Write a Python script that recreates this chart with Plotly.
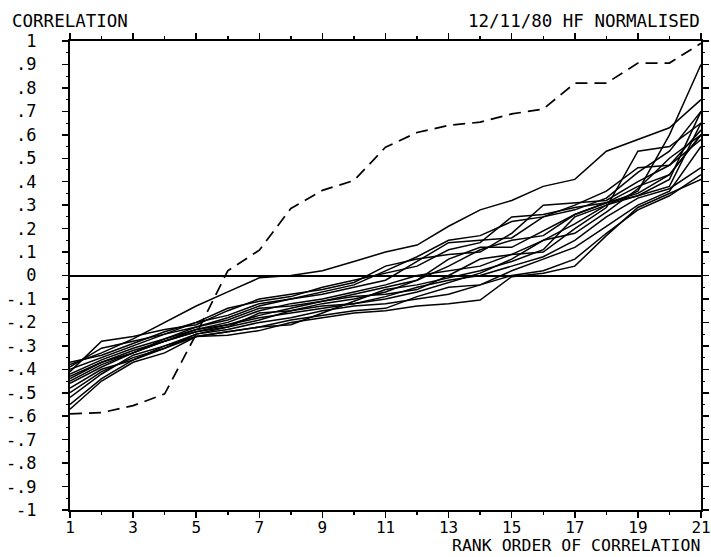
import plotly.graph_objects as go

rank = list(range(1, 22))

# dashed series
dashed = [-0.59, -0.585, -0.555, -0.505, -0.25, 0.02, 0.108, 0.286, 0.363, 0.405,
          0.547, 0.61, 0.64, 0.654, 0.689, 0.71, 0.82, 0.82, 0.906, 0.906, 0.99]

# solid series (rank-ordered correlations)
s01 = [-0.38, -0.33, -0.27, -0.20, -0.13, -0.07, -0.01, 0.00, 0.02, 0.06, 0.10, 0.13, 0.21, 0.28, 0.32, 0.38, 0.41, 0.53, 0.58, 0.63, 0.75]
s02 = [-0.55, -0.44, -0.36, -0.30, -0.26, -0.255, -0.235, -0.20, -0.18, -0.16, -0.15, -0.13, -0.12, -0.105, -0.005, 0.01, 0.04, 0.17, 0.29, 0.35, 0.41]
s03 = [-0.50, -0.41, -0.35, -0.31, -0.26, -0.24, -0.22, -0.19, -0.17, -0.15, -0.14, -0.09, -0.05, -0.04, 0.00, 0.02, 0.07, 0.18, 0.28, 0.34, 0.43]
s04 = [-0.45, -0.38, -0.33, -0.28, -0.23, -0.20, -0.15, -0.12, -0.10, -0.07, -0.04, 0.00, 0.02, 0.04, 0.09, 0.15, 0.22, 0.30, 0.36, 0.60, 0.90]
s05 = [-0.40, -0.35, -0.30, -0.25, -0.22, -0.18, -0.13, -0.10, -0.07, -0.04, 0.02, 0.08, 0.15, 0.17, 0.23, 0.25, 0.28, 0.33, 0.44, 0.53, 0.70]
s06 = [-0.42, -0.36, -0.31, -0.27, -0.23, -0.21, -0.17, -0.14, -0.11, -0.08, -0.05, -0.02, 0.04, 0.11, 0.15, 0.17, 0.26, 0.31, 0.34, 0.38, 0.65]
s07 = [-0.37, -0.34, -0.29, -0.24, -0.20, -0.17, -0.12, -0.10, -0.08, -0.05, -0.02, 0.06, 0.14, 0.15, 0.16, 0.25, 0.30, 0.36, 0.46, 0.47, 0.62]
s08 = [-0.44, -0.37, -0.32, -0.28, -0.24, -0.21, -0.18, -0.16, -0.14, -0.12, -0.10, -0.07, -0.03, 0.01, 0.07, 0.15, 0.18, 0.27, 0.37, 0.50, 0.60]
s09 = [-0.46, -0.39, -0.33, -0.28, -0.24, -0.22, -0.19, -0.15, -0.12, -0.10, -0.07, -0.02, 0.07, 0.12, 0.12, 0.19, 0.26, 0.31, 0.38, 0.43, 0.60]
s10 = [-0.41, -0.28, -0.26, -0.23, -0.21, -0.15, -0.10, -0.08, -0.06, -0.03, 0.04, 0.07, 0.09, 0.10, 0.18, 0.30, 0.31, 0.32, 0.40, 0.47, 0.58]
s11 = [-0.48, -0.40, -0.36, -0.31, -0.25, -0.23, -0.20, -0.18, -0.15, -0.13, -0.12, -0.10, -0.08, -0.04, 0.02, 0.07, 0.12, 0.21, 0.30, 0.36, 0.55]
s12 = [-0.43, -0.37, -0.33, -0.27, -0.22, -0.19, -0.14, -0.13, -0.11, -0.09, -0.08, -0.06, 0.00, 0.07, 0.09, 0.10, 0.20, 0.29, 0.53, 0.55, 0.65]
s13 = [-0.52, -0.42, -0.34, -0.30, -0.25, -0.22, -0.16, -0.15, -0.13, -0.12, -0.09, -0.05, -0.02, 0.00, 0.04, 0.08, 0.15, 0.25, 0.33, 0.37, 0.46]
s14 = [-0.39, -0.31, -0.28, -0.25, -0.20, -0.14, -0.11, -0.09, -0.05, -0.02, 0.01, 0.04, 0.11, 0.14, 0.25, 0.26, 0.29, 0.31, 0.35, 0.43, 0.60]
s15 = [-0.57, -0.45, -0.37, -0.33, -0.26, -0.24, -0.22, -0.21, -0.16, -0.11, -0.06, -0.04, -0.01, 0.02, 0.06, 0.11, 0.25, 0.30, 0.34, 0.41, 0.70]
solid_series = [s01, s02, s03, s04, s05, s06, s07, s08, s09, s10, s11, s12, s13, s14, s15]

xtick_vals = [1, 3, 5, 7, 9, 11, 13, 15, 17, 19, 21]
xtick_text = [str(v) for v in xtick_vals]
xminor_vals = [2, 4, 6, 8, 10, 12, 14, 16, 18, 20]
ytick_vals = [1, 0.9, 0.8, 0.7, 0.6, 0.5, 0.4, 0.3, 0.2, 0.1, 0, -0.1, -0.2, -0.3, -0.4, -0.5, -0.6, -0.7, -0.8, -0.9, -1]
ytick_text = ["1", ".9", ".8", ".7", ".6", ".5", ".4", ".3", ".2", ".1", "0",
              "-.1", "-.2", "-.3", "-.4", "-.5", "-.6", "-.7", "-.8", "-.9", "-1"]

FONT = "DejaVu Sans Mono"

fig = go.Figure()
for s in solid_series:
    fig.add_trace(go.Scatter(x=rank, y=s, mode="lines",
                             line=dict(color="black", width=1.5),
                             showlegend=False, hoverinfo="skip"))
fig.add_trace(go.Scatter(x=rank, y=dashed, mode="lines",
                         line=dict(color="black", width=1.7, dash="12px,7px"),
                         showlegend=False, hoverinfo="skip"))

W, H = 711, 557
L, R, T, B = 70, 10, 41, 47
ph = H - T - B
pw = W - L - R

def py(ypx):
    return (H - B - ypx) / ph

def px(xpx):
    return (xpx - L) / pw

fig.update_layout(
    width=W, height=H,
    margin=dict(l=L, r=R, t=T, b=B, pad=0, autoexpand=False),
    paper_bgcolor="white", plot_bgcolor="white",
    font=dict(family=FONT, size=16, color="black"),
    xaxis=dict(range=[1, 21], showgrid=False, zeroline=False, automargin=False,
               showline=True, linecolor="black", linewidth=2, mirror="allticks",
               ticks="outside", ticklen=6, tickwidth=1.5, tickcolor="black",
               tickvals=xtick_vals, ticktext=xtick_text,
               tickfont=dict(family=FONT, size=16),
               ticklabeloverflow="allow", ticklabelstandoff=-4,
               minor=dict(tickvals=xminor_vals,
                          ticklen=3, tickwidth=1.5, tickcolor="black", ticks="outside")),
    yaxis=dict(range=[-1, 1], showgrid=False, automargin=False,
               zeroline=True, zerolinecolor="black", zerolinewidth=2,
               showline=True, linecolor="black", linewidth=2, mirror="allticks",
               ticks="outside", ticklen=6, tickwidth=1.5, tickcolor="black",
               tickvals=ytick_vals, ticktext=ytick_text,
               tickfont=dict(family=FONT, size=17),
               ticklabelstandoff=22, ticklabeloverflow="allow",
               minor=dict(dtick=0.05, ticklen=2, tickwidth=1, tickcolor="black", ticks="outside")),
)

fig.add_annotation(text="CORRELATION", xref="paper", yref="paper",
                   x=px(10), y=py(21), xanchor="left", yanchor="middle",
                   showarrow=False, font=dict(family=FONT, size=17.5))
fig.add_annotation(text="12/11/80 HF NORMALISED", xref="paper", yref="paper",
                   x=px(702), y=py(21), xanchor="right", yanchor="middle",
                   showarrow=False, font=dict(family=FONT, size=17.5))
fig.add_annotation(text="RANK ORDER OF CORRELATION", xref="paper", yref="paper",
                   x=px(702), y=py(557), xanchor="right", yanchor="bottom",
                   showarrow=False, font=dict(family=FONT, size=16.5))

fig.write_html("out.html",
               config={"displayModeBar": False, "staticPlot": True},
               post_script="document.body.style.margin='0';document.body.style.padding='0';")
